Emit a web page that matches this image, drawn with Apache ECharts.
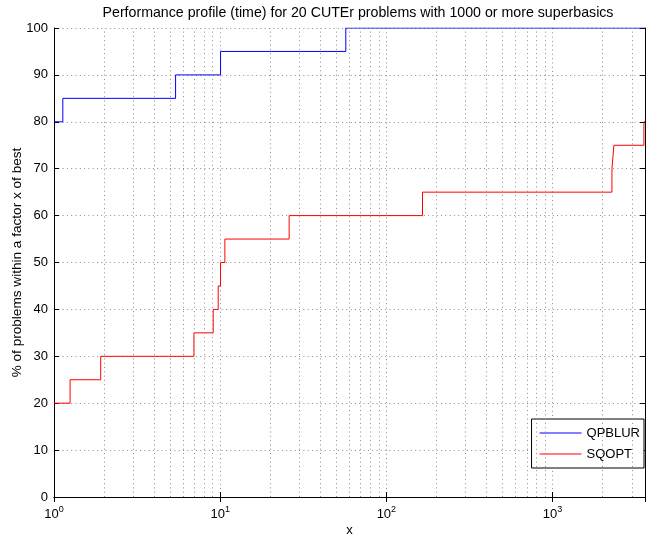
<!DOCTYPE html>
<html>
<head>
<meta charset="utf-8">
<script src="https://cdn.jsdelivr.net/npm/echarts@6/dist/echarts.min.js"></script>
<style>
html,body{margin:0;padding:0;background:#fff;}
#chart{width:646px;height:536px;}
</style>
</head>
<body>
<div id="chart"></div>
<script>
// ---- data ----
var titleText = 'Performance profile (time) for 20 CUTEr problems with 1000 or more superbasics';
var xName = 'x';
var yName = '% of problems within a factor x of best';
var seriesNames = ['QPBLUR', 'SQOPT'];
// step functions: x where a level starts, and the level (%)
var qpblurX = [1, 1.13, 5.39, 10.05, 57.0, 3600];
var qpblurY = [80, 85, 90, 95, 100, 100];
var sqoptX = [1, 1.25, 1.91, 6.95, 9.08, 9.73, 10.05, 10.67, 26.0, 165, 2277, 2340, 3546, 3600];
var sqoptY = [20, 25, 30, 35, 40, 45, 50, 55, 60, 65, 70, 75, 80, 80];
var xMin = 1, xMax = 3600;
var yMin = 0, yMax = 100, yStep = 10;
var minorTicks = [2,3,4,5,6,7,8,9,20,30,40,50,60,70,80,90,200,300,400,500,600,700,800,900,2000,3000];

function pairs(xs, ys){ return xs.map(function(x,i){ return [x, ys[i]]; }); }

var FONT = 'Liberation Sans';
var dotted = {color:'#8a8a8a', width:1, type:[1,3.3]};

var chart = echarts.init(document.getElementById('chart'), null, {renderer:'canvas'});
var superLabel = function(v){
  var e = Math.log10(v);
  if (Math.abs(e - Math.round(e)) > 1e-6) return '';
  return '10{s|' + Math.round(e) + '}';
};
chart.setOption({
  animation:false,
  backgroundColor:'#fff',
  textStyle:{fontFamily:FONT},
  graphic:[{type:'text', x:358, y:13, style:{text:titleText, font:'14.2px "Liberation Sans"', fill:'#000', align:'center', verticalAlign:'middle'}}],
  grid:{left:54, right:1, top:28, bottom:39, containLabel:false, outerBoundsMode:'none'},
  xAxis:[{
    type:'log', logBase:10, min:xMin, max:xMax,
    name:xName, nameLocation:'middle', nameGap:27, nameMoveOverlap:false,
    nameTextStyle:{fontSize:13, color:'#000', fontFamily:FONT},
    axisLine:{lineStyle:{color:'#000', width:1}},
    axisTick:{inside:true, length:5, lineStyle:{color:'#000'}},
    axisLabel:{showMaxLabel:false, color:'#000', fontSize:13, fontFamily:FONT, margin:8, formatter:superLabel,
      rich:{s:{fontSize:9, padding:[0,0,10,0], fontFamily:FONT, color:'#000'}}},
    splitLine:{show:true, lineStyle:dotted}
  },{
    type:'log', logBase:10, min:xMin, max:xMax, position:'top',
    axisLine:{lineStyle:{color:'#000', width:1}},
    axisTick:{inside:true, length:5, lineStyle:{color:'#000'}},
    axisLabel:{show:false}, splitLine:{show:false}
  }],
  yAxis:[{
    type:'value', min:yMin, max:yMax, interval:yStep,
    name:yName, nameLocation:'middle', nameGap:30, nameMoveOverlap:false,
    nameTextStyle:{fontSize:13.6, color:'#000', fontFamily:FONT},
    axisLine:{show:true, lineStyle:{color:'#000', width:1}},
    axisTick:{show:true, inside:true, length:5, lineStyle:{color:'#000'}},
    axisLabel:{color:'#000', fontSize:13, fontFamily:FONT, margin:6},
    splitLine:{show:true, lineStyle:dotted}
  },{
    type:'value', min:yMin, max:yMax, interval:yStep, position:'right',
    axisLine:{show:true, lineStyle:{color:'#000', width:1}},
    axisTick:{show:true, inside:true, length:5, lineStyle:{color:'#000'}},
    axisLabel:{show:false}, splitLine:{show:false}
  }],
  legend:{
    data:[{name:seriesNames[0], icon:'rect'},{name:seriesNames[1], icon:'rect'}],
    orient:'vertical', right:2, top:419,
    backgroundColor:'#fff', borderColor:'#000', borderWidth:1,
    padding:[7,4,7,8], itemWidth:42, itemHeight:1, itemGap:7,
    textStyle:{fontSize:13, lineHeight:14, color:'#000', fontFamily:FONT}
  },
  series:[{
    name:'grid', type:'line', data:[], silent:true, z:1,
    markLine:{silent:true, symbol:['none','none'], label:{show:false},
      lineStyle:dotted, emphasis:{disabled:true},
      data:minorTicks.map(function(v){ return {xAxis:v}; })}
  },{
    name:seriesNames[0], type:'line', step:'end', symbol:'none', z:3,
    lineStyle:{color:'#0000ff', width:1}, itemStyle:{color:'#0000ff'},
    data:pairs(qpblurX, qpblurY)
  },{
    name:seriesNames[1], type:'line', step:'end', symbol:'none', z:3,
    lineStyle:{color:'#ff0000', width:1}, itemStyle:{color:'#ff0000'},
    data:pairs(sqoptX, sqoptY)
  }]
});
</script>
</body>
</html>
